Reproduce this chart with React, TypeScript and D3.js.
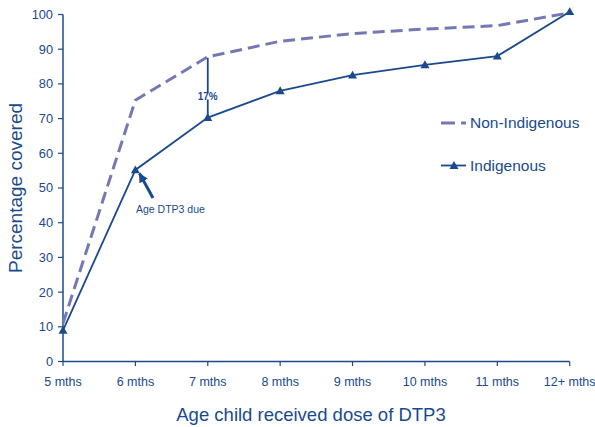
import React from "react";
import * as d3 from "d3";

const categories = ["5 mths", "6 mths", "7 mths", "8 mths", "9 mths", "10 mths", "11 mths", "12+ mths"];
const nonIndigenous = [11, 75.3, 87.8, 92.3, 94.5, 95.8, 96.8, 100.5];
const indigenous = [9, 55.2, 70.3, 78, 82.5, 85.5, 88, 100.8];
const yTicks = [0, 10, 20, 30, 40, 50, 60, 70, 80, 90, 100];

const W = 595;
const H = 427;
const BLUE = "#1a4a8c";
const DASH = "#7479b4";
const FONT = "Liberation Sans, Arial, sans-serif";

export default function App() {
  const x = d3.scalePoint<string>().domain(categories).range([63, 569.7]);
  const y = d3.scaleLinear().domain([0, 100]).range([361.5, 14.5]);
  const line = d3
    .line<number>()
    .x((_, i) => x(categories[i]) as number)
    .y((d) => y(d));

  const tri = (cx: number, cy: number, s = 4.5) =>
    `M${cx},${cy - s} L${cx + s},${cy + s * 0.75} L${cx - s},${cy + s * 0.75} Z`;

  const x7 = x("7 mths") as number;

  return (
    <svg width={W} height={H} style={{ position: "absolute", left: 0, top: 0, background: "#fff" }} fontFamily={FONT}>
      <defs>
        <marker id="ah" viewBox="0 0 10 10" refX="9" refY="5" markerWidth="3.2" markerHeight="3.2" orient="auto">
          <path d="M0,0 L10,5 L0,10 Z" fill={BLUE} />
        </marker>
      </defs>
      {/* axes */}
      <line x1={63} x2={63} y1={14.5} y2={361.5} stroke={BLUE} strokeWidth={1.5} />
      <line x1={63} x2={569.7} y1={361.5} y2={361.5} stroke={BLUE} strokeWidth={1.5} />
      {yTicks.map((t) => (
        <g key={t}>
          <line x1={58} x2={63} y1={y(t)} y2={y(t)} stroke={BLUE} strokeWidth={1.2} />
          <text x={53} y={y(t)} dy="0.35em" textAnchor="end" fontSize={12.8} fill={BLUE}>
            {t}
          </text>
        </g>
      ))}
      {categories.map((c) => (
        <g key={c}>
          <line x1={x(c)} x2={x(c)} y1={361.5} y2={366} stroke={BLUE} strokeWidth={1.2} />
          <text x={x(c)} y={385.5} textAnchor="middle" fontSize={12.5} fill={BLUE}>
            {c}
          </text>
        </g>
      ))}
      <text x={311} y={421} textAnchor="middle" fontSize={18.5} fill={BLUE}>
        Age child received dose of DTP3
      </text>
      <text transform="translate(22,188) rotate(-90)" textAnchor="middle" fontSize={19} fill={BLUE}>
        Percentage covered
      </text>

      {/* series */}
      <path d={line(nonIndigenous) || ""} fill="none" stroke={DASH} strokeWidth={3} strokeDasharray="12,6" />
      <path d={line(indigenous) || ""} fill="none" stroke={BLUE} strokeWidth={1.8} />
      {indigenous.map((v, i) => (
        <path key={i} d={tri(x(categories[i]) as number, y(v))} fill={BLUE} />
      ))}

      {/* annotations */}
      <line x1={x7} x2={x7} y1={y(nonIndigenous[2]) + 1} y2={y(77.5)} stroke={BLUE} strokeWidth={1.8} />
      <line x1={x7} x2={x7} y1={y(75.5)} y2={y(indigenous[2]) - 2} stroke={BLUE} strokeWidth={1.8} />
      <text x={x7} y={y(76.5)} dy="0.35em" textAnchor="middle" fontSize={10} fontWeight="bold" fill={BLUE}>
        17%
      </text>
      <line x1={153} y1={198} x2={139.5} y2={173.5} stroke={BLUE} strokeWidth={3} markerEnd="url(#ah)" />
      <text x={136} y={213} fontSize={10.5} fill={BLUE}>
        Age DTP3 due
      </text>

      {/* legend */}
      <line x1={441} x2={466} y1={123} y2={123} stroke={DASH} strokeWidth={3} strokeDasharray="14,6" />
      <text x={470} y={123} dy="0.35em" fontSize={15.5} fill={BLUE}>
        Non-Indigenous
      </text>
      <line x1={441} x2={466} y1={165.5} y2={165.5} stroke={BLUE} strokeWidth={1.8} />
      <path d={tri(454, 165.5)} fill={BLUE} />
      <text x={470} y={165.5} dy="0.35em" fontSize={15.5} fill={BLUE}>
        Indigenous
      </text>
    </svg>
  );
}
